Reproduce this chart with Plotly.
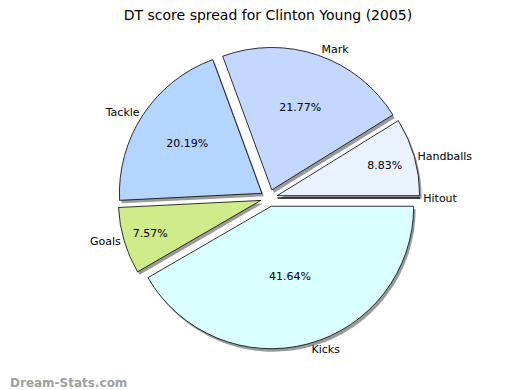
import plotly.graph_objects as go

labels = ["Hitout", "Handballs", "Mark", "Tackle", "Goals", "Kicks"]
values = [0.0, 8.83, 21.77, 20.19, 7.57, 41.64]
colors = ["#e0e0ff", "#eaf2ff", "#c4d8ff", "#b3d5ff", "#d0eb8a", "#d9ffff"]
title = "DT score spread for Clinton Young (2005)"
pull = 0.06

W, H = 520, 390
cx, cy = 261, 190          # pie centre in pixels (from top)
half = 151                 # half size of the pie domain in pixels


def dom(dx=0, dy=0):
    x0 = (cx + dx - half) / W
    x1 = (cx + dx + half) / W
    yc = H - (cy + dy)
    return dict(x=[x0, x1], y=[(yc - half) / H, (yc + half) / H])


common = dict(labels=labels, values=values, sort=False, direction="counterclockwise",
              rotation=90, pull=[pull] * len(values), showlegend=False, hoverinfo="skip")

fig = go.Figure()
# shadow
fig.add_trace(go.Pie(**common, domain=dom(2, 3), textinfo="none",
                     marker=dict(colors=["#909090"] * len(values), line=dict(width=0)),
                     opacity=0.9))
# main slices with percentages
fig.add_trace(go.Pie(**common, domain=dom(), texttemplate="%{percent:.2%}",
                     textposition="inside", insidetextorientation="horizontal",
                     textfont=dict(family="DejaVu Sans", size=11, color="#000000"),
                     marker=dict(colors=colors, line=dict(color="#000000", width=0.8))))
# outside labels
fig.add_trace(go.Pie(**common, domain=dom(), texttemplate="%{label}",
                     textposition="outside",
                     textfont=dict(family="DejaVu Sans", size=11, color="#000000"),
                     marker=dict(colors=["rgba(0,0,0,0)"] * len(values),
                                 line=dict(width=0))))

fig.update_layout(
    width=W, height=H,
    margin=dict(l=0, r=0, t=0, b=0),
    paper_bgcolor="white", plot_bgcolor="white",
    title=dict(text=title, x=0.5, xanchor="center", y=1 - 2 / H, yanchor="top",
               font=dict(family="DejaVu Sans", size=14, color="#000000")),
    annotations=[dict(text="<b>Dream-Stats.com</b>", x=0, y=6 / H, xref="paper",
                      yref="paper", xanchor="left", yanchor="bottom", showarrow=False,
                      font=dict(family="DejaVu Sans", size=12, color="#a0a0a0"))],
)

fig.write_html("out.html")
